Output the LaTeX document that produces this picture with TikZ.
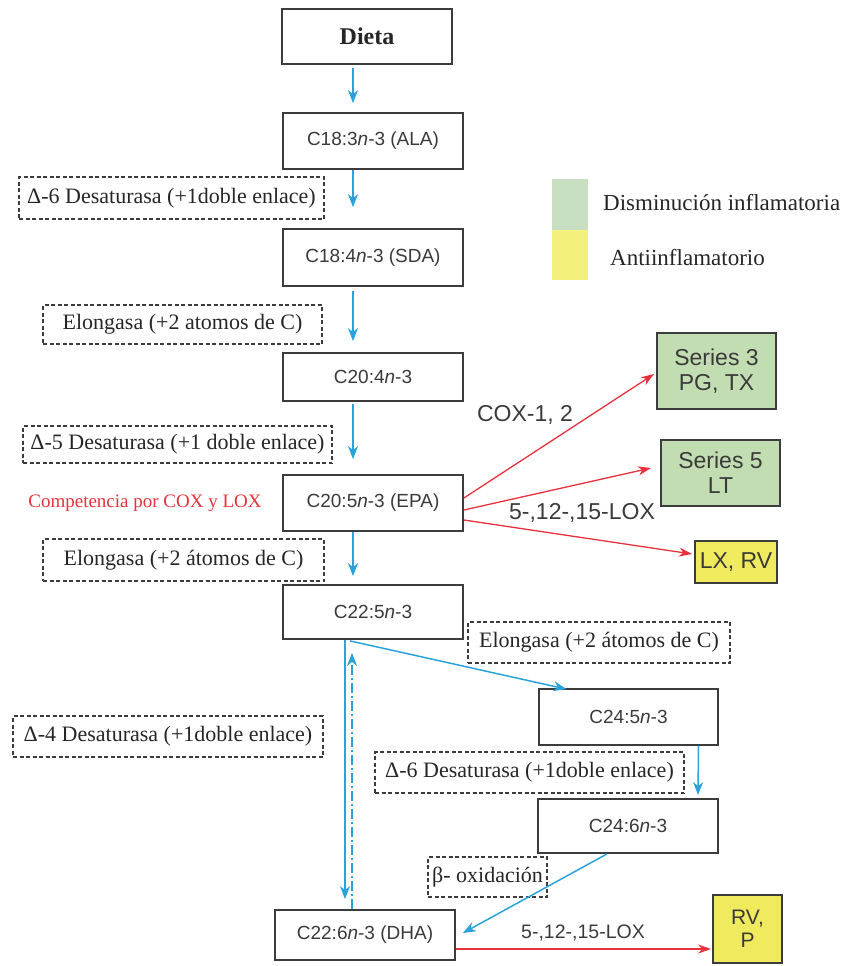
\documentclass[tikz,border=0pt]{standalone}
\usepackage{fontspec}
\setmainfont{Liberation Serif}
\setsansfont{Liberation Sans}
\usetikzlibrary{arrows.meta,calc}
\definecolor{cblue}{HTML}{2AA3DC}
\definecolor{cred}{HTML}{E5323C}
\definecolor{cgreen}{HTML}{C3DDB3}
\definecolor{cyellow}{HTML}{F0EB5E}
\definecolor{lgreen}{HTML}{C8DFC2}
\definecolor{lyellow}{HTML}{F3F07C}
\definecolor{ctext}{HTML}{3A3A3A}
\definecolor{cline}{HTML}{3C3C3C}
\begin{document}
\begin{tikzpicture}[x=1pt,y=-1pt,
  box/.style={draw=cline, line width=1.8pt, fill=white, inner sep=0pt, font=\sffamily\fontsize{19}{22}\selectfont, text=ctext},
  gbox/.style={box, fill=cgreen, font=\sffamily\fontsize{23}{25}\selectfont, align=center},
  ybox/.style={box, fill=cyellow, font=\sffamily\fontsize{23}{25}\selectfont, align=center},
  lbl/.style={draw=cline, dash pattern=on 4pt off 2.5pt, line width=1.2pt, inner sep=0pt, font=\fontsize{22}{24}\selectfont, text=black!85},
  barrow/.style={draw=cblue, line width=1.5pt, -{Stealth[length=13pt,width=10pt,inset=4pt]}},
  rarrow/.style={draw=cred, line width=1.3pt, -{Stealth[length=13pt,width=9pt,inset=4pt]}},
  rlab/.style={font=\sffamily\fontsize{23}{25}\selectfont, text=ctext},
  leg/.style={font=\fontsize{23}{25}\selectfont, text=black!85, anchor=west, inner sep=0pt},
]
\useasboundingbox (0,0) rectangle (852,966);

% main column
\node[box, minimum width=170pt, minimum height=55pt, font=\bfseries\fontsize{24}{26}\selectfont, text=black!85] (dieta) at (367,36.5) {Dieta};
\node[box, minimum width=180pt, minimum height=56pt] (ala) at (373,141) {C18:3\textit{n}-3 (ALA)};
\node[box, minimum width=180pt, minimum height=57pt] (sda) at (373,257.5) {C18:4\textit{n}-3 (SDA)};
\node[box, minimum width=180pt, minimum height=48pt] (c204) at (373,377) {C20:4\textit{n}-3};
\node[box, minimum width=180pt, minimum height=56pt] (epa) at (373,503) {C20:5\textit{n}-3 (EPA)};
\node[box, minimum width=180pt, minimum height=54pt] (c225) at (373,612) {C22:5\textit{n}-3};
\node[box, minimum width=180pt, minimum height=50pt] (dha) at (365,935) {C22:6\textit{n}-3 (DHA)};
\node[box, minimum width=179pt, minimum height=56pt] (c245) at (628.5,717) {C24:5\textit{n}-3};
\node[box, minimum width=180pt, minimum height=54pt] (c246) at (628,826) {C24:6\textit{n}-3};

% products
\node[gbox, minimum width=119pt, minimum height=76pt] (s3) at (716.5,371) {Series 3\\PG, TX};
\node[gbox, minimum width=119pt, minimum height=66pt] (s5) at (720.5,473) {Series 5\\LT};
\node[ybox, minimum width=82pt, minimum height=42pt] (lxrv) at (736,562) {LX, RV};
\node[ybox, minimum width=69pt, minimum height=68pt, font=\sffamily\fontsize{21}{23}\selectfont] (rvp) at (747.5,929) {RV,\\P};

% enzyme labels
\node[lbl, minimum width=305pt, minimum height=42pt] (d6a) at (171.5,198) {Δ-6 Desaturasa (+1doble enlace)};
\node[lbl, minimum width=279pt, minimum height=39pt] (elo1) at (182.5,324.5) {Elongasa (+2 atomos de C)};
\node[lbl, minimum width=309pt, minimum height=37pt] (d5) at (177.5,444.5) {Δ-5 Desaturasa (+1 doble enlace)};
\node[lbl, minimum width=281pt, minimum height=42pt] (elo2) at (183.5,560) {Elongasa (+2 átomos de C)};
\node[lbl, minimum width=262pt, minimum height=41pt] (elo3) at (599,642.5) {Elongasa (+2 átomos de C)};
\node[lbl, minimum width=310pt, minimum height=41pt] (d4) at (168,736.5) {Δ-4 Desaturasa (+1doble enlace)};
\node[lbl, minimum width=309pt, minimum height=41pt] (d6b) at (529.5,772.5) {Δ-6 Desaturasa (+1doble enlace)};
\node[lbl, minimum width=119pt, minimum height=40pt] (beta) at (487.5,877) {β- oxidación};

\node[font=\fontsize{19}{21}\selectfont, text=cred, inner sep=0pt] (comp) at (145,503) {Competencia por COX y LOX};

% legend
\fill[lgreen] (552,179) rectangle (588,230);
\fill[lyellow] (552,230) rectangle (588,280);
\node[leg] (lg1) at (603,203) {Disminución inflamatoria};
\node[leg] (lg2) at (610,258) {Antiinflamatorio};

% blue arrows main column
\draw[barrow] ($(dieta.south)+(-14,3)$) -- ($(ala.north)+(-20,-9)$);
\draw[barrow] ($(ala.south)+(-20,0)$) -- ($(sda.north)+(-20,-21)$);
\draw[barrow] ($(sda.south)+(-20,4)$) -- ($(c204.north)+(-20,-11)$);
\draw[barrow] ($(c204.south)+(-20,2)$) -- ($(epa.north)+(-20,-15)$);
\draw[barrow] ($(epa.south)+(-20,0)$) -- ($(c225.north)+(-20,-8)$);

% red arrows from EPA
\draw[rarrow] ($(epa.east)+(0,-5)$) -- ($(s3.west)+(-2,3)$);
\draw[rarrow] ($(epa.east)+(0,7)$) -- ($(s5.west)+(-9,-5)$);
\draw[rarrow] ($(epa.east)+(0,17)$) -- ($(lxrv.west)+(-2,-8)$);
\node[rlab] (cox) at (525,415) {COX-1, 2};
\node[rlab] (lox1) at (582,513) {5-,12-,15-LOX};

% lower pathway
\draw[barrow] ($(c225.south)+(-23,1)$) -- ($(c245.north)+(-62,1)$);
\draw[barrow] ($(c245.south)+(70,0)$) -- ($(c246.north)+(70,-3)$);
\draw[barrow] ($(c246.south)+(-21,0)$) -- ($(dha.east)+(7,-2)$);
\draw[barrow] ($(c225.south)+(-28,0)$) -- ($(dha.north)+(-20,-10)$);
\draw[barrow, dash pattern=on 10pt off 3pt on 2pt off 3pt] ($(dha.north)+(-13,0)$) -- ($(c225.south)+(-21,13)$);

\draw[rarrow] ($(dha.east)+(0,14)$) -- ($(rvp.west)+(-1,20)$);
\node[rlab, font=\sffamily\fontsize{19.5}{22}\selectfont] (lox2) at (583,933) {5-,12-,15-LOX};
\end{tikzpicture}
\end{document}
